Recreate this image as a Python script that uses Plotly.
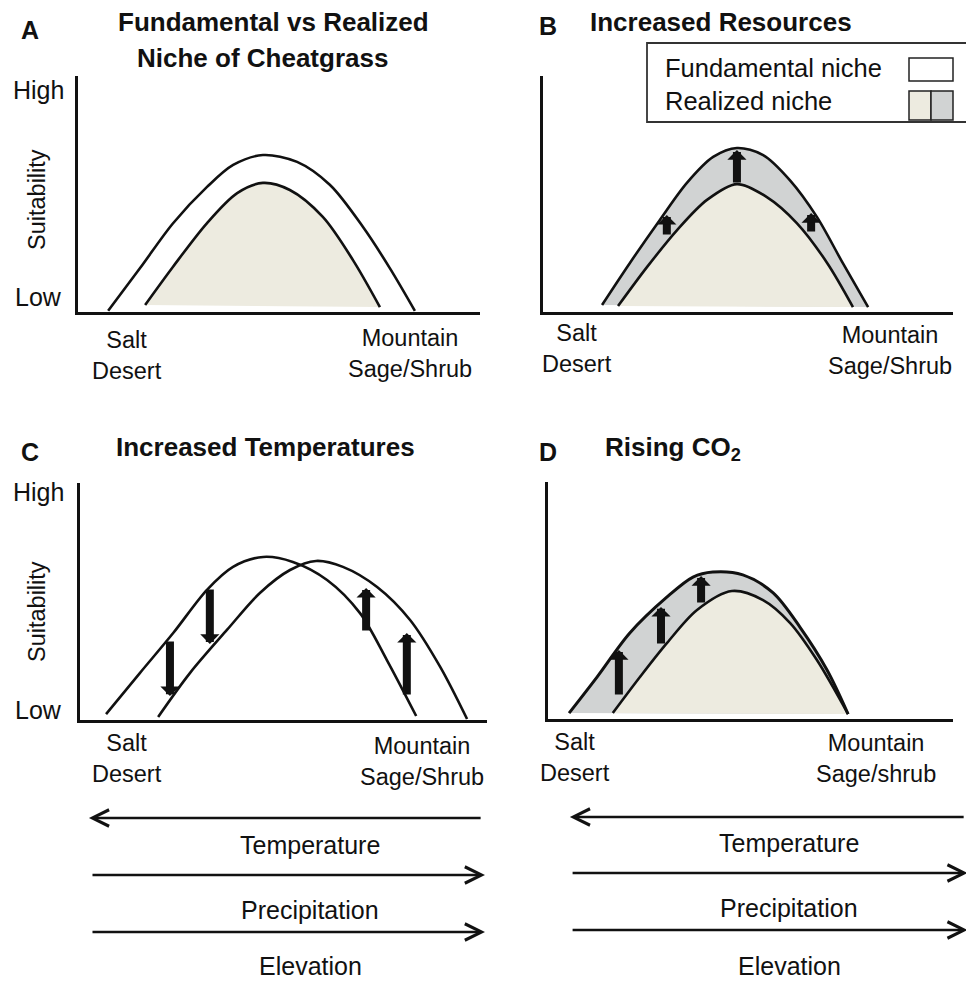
import plotly.graph_objects as go

W, H = 966, 981
FONT = "Liberation Sans, Arial, Helvetica, sans-serif"
INK = "#111111"
BEIGE = "#EDEBE0"
GREY = "#D1D3D3"

# ---------------- data (gradient position 0-100, suitability 0-100) ----------------
# Panel A: fundamental vs realized niche
A_fund_x = [7.5, 15.4, 23.6, 32.1, 38.6, 46.0, 54.5, 62.7, 70.9, 77.6, 83.8]
A_fund_y = [0.5, 18.5, 37.5, 53.0, 62.3, 66.5, 63.6, 53.8, 36.0, 18.5, 0.5]
A_real_x = [16.7, 23.6, 32.1, 39.6, 46.0, 52.7, 60.9, 68.4, 75.1]
A_real_y = [3.0, 19.1, 37.7, 50.4, 54.7, 51.7, 40.3, 22.0, 2.1]

# Panel B: increased resources
B_new_x = [14.4, 21.2, 28.5, 35.1, 41.5, 47.3, 53.7, 60.2, 66.8, 73.1, 79.3]
B_new_y = [3.0, 20.8, 39.0, 54.7, 65.7, 69.5, 66.5, 55.9, 40.3, 20.8, 2.1]
B_old_x = [18.3, 25.4, 32.7, 40.0, 47.3, 54.6, 61.9, 69.3, 75.6]
B_old_y = [2.5, 19.1, 34.7, 47.5, 54.2, 48.7, 37.7, 20.8, 2.1]
B_arrow_x = [30.2, 47.3, 65.4]
B_arrow_from = [32.2, 54.2, 33.5]
B_arrow_to = [41.1, 68.6, 41.9]

# Panel C: increased temperatures
C_old_x = [6.4, 14.7, 22.9, 31.2, 37.6, 45.0, 52.3, 60.7, 68.8, 75.4, 82.6]
C_old_y = [2.5, 19.8, 36.7, 54.9, 64.6, 68.8, 66.7, 59.1, 45.1, 25.3, 1.7]
C_new_x = [19.2, 27.0, 36.1, 44.2, 51.6, 58.0, 64.6, 73.0, 81.1, 88.5, 95.1]
C_new_y = [1.3, 19.8, 38.0, 53.6, 63.3, 67.1, 64.6, 56.1, 42.2, 22.4, 0.4]
C_arrow_x = [22.1, 31.9, 70.3, 80.3]
C_arrow_from = [33.8, 55.7, 37.1, 10.1]
C_arrow_to = [10.1, 32.1, 55.7, 36.7]

# Panel D: rising CO2
D_new_x = [5.2, 12.1, 20.2, 29.4, 35.8, 40.7, 48.1, 55.6, 62.2, 68.9, 74.1]
D_new_y = [2.5, 17.7, 36.3, 51.5, 59.9, 62.0, 60.8, 53.2, 38.8, 20.7, 2.1]
D_old_x = [16.0, 22.7, 29.4, 36.8, 45.4, 53.1, 59.8, 66.4, 74.1]
D_old_y = [2.5, 17.7, 32.1, 46.0, 54.0, 50.2, 40.5, 24.9, 2.1]
D_arrow_x = [17.5, 27.9, 37.8]
D_arrow_from = [9.7, 31.2, 48.5]
D_arrow_to = [29.1, 47.3, 60.3]

# Environmental gradient arrows (start -> end along the gradient axis)
grad_names = ["Temperature", "Precipitation", "Elevation"]
grad_C_start = [98.8, 2.7, 2.7]
grad_C_end = [2.2, 99.5, 99.5]
grad_D_start = [103.0, 5.7, 5.7]
grad_D_end = [5.4, 103.6, 103.6]

y_ticks = ["Low", "High"]
x_ticks_AB = ["Salt<br>Desert", "Mountain<br>Sage/Shrub"]
x_ticks_D = ["Salt<br>Desert", "Mountain<br>Sage/shrub"]
legend_items = ["Fundamental niche", "Realized niche"]


def px(x):
    return x / W


def py(y):
    return 1 - y / H


fig = go.Figure()

# panel frames (pixel boxes of the axes)
boxes = {
    "": (78, 480, 76, 312),
    "2": (543, 953, 76, 312),
    "3": (80, 487, 483, 720),
    "4": (548, 953, 482, 719),
}

layout_axes = {}
for k, (x0, x1, y0, y1) in boxes.items():
    ax_common = dict(range=[0, 100], showgrid=False, zeroline=False, showticklabels=False,
                     ticks="", showline=True, linewidth=2.6, linecolor=INK, fixedrange=True)
    layout_axes["xaxis" + k] = dict(domain=[px(x0), px(x1)], anchor="y" + k, **ax_common)
    layout_axes["yaxis" + k] = dict(domain=[py(y1), py(y0)], anchor="x" + k, **ax_common)


def fill(xs, ys, color, k):
    fig.add_trace(go.Scatter(x=xs, y=ys, mode="lines", fill="toself", fillcolor=color,
                             line=dict(width=0, shape="spline", smoothing=0.9),
                             xaxis="x" + k, yaxis="y" + k, hoverinfo="skip", showlegend=False))


def curve(xs, ys, k, w=2.6):
    fig.add_trace(go.Scatter(x=xs, y=ys, mode="lines",
                             line=dict(width=w, color=INK, shape="spline", smoothing=0.9),
                             xaxis="x" + k, yaxis="y" + k, hoverinfo="skip", showlegend=False))


# A
fill(A_real_x, A_real_y, BEIGE, "")
curve(A_fund_x, A_fund_y, "")
curve(A_real_x, A_real_y, "")
# B
fill(B_new_x, B_new_y, GREY, "2")
fill(B_old_x, B_old_y, BEIGE, "2")
curve(B_new_x, B_new_y, "2")
curve(B_old_x, B_old_y, "2")
# C
curve(C_old_x, C_old_y, "3")
curve(C_new_x, C_new_y, "3")
# D
fill(D_new_x, D_new_y, GREY, "4")
fill(D_old_x, D_old_y, BEIGE, "4")
curve(D_new_x, D_new_y, "4", 3.0)
curve(D_old_x, D_old_y, "4")

ann = []


def block_arrows(xs, y0s, y1s, k, width=8):
    for x, a, b in zip(xs, y0s, y1s):
        ann.append(dict(x=x, y=b, ax=x, ay=a, xref="x" + k, yref="y" + k, axref="x" + k, ayref="y" + k,
                        text="", showarrow=True, arrowhead=1, arrowwidth=width, arrowsize=0.4,
                        arrowcolor=INK))


block_arrows(B_arrow_x, B_arrow_from, B_arrow_to, "2")
block_arrows(C_arrow_x, C_arrow_from, C_arrow_to, "3")
block_arrows(D_arrow_x, D_arrow_from, D_arrow_to, "4")

# gradient arrows + labels
grad_rows_C = [818, 875, 932]
grad_lbl_C = [845, 910, 966]
grad_rows_D = [817, 873, 930]
grad_lbl_D = [843, 908, 966]
for i, name in enumerate(grad_names):
    ann.append(dict(x=grad_C_end[i], y=py(grad_rows_C[i]), ax=grad_C_start[i], ay=0,
                    xref="x3", yref="paper", axref="x3", ayref="pixel", text="", showarrow=True,
                    arrowhead=5, arrowwidth=2.6, arrowsize=1.25, arrowcolor=INK))
    ann.append(dict(x=grad_D_end[i], y=py(grad_rows_D[i]), ax=grad_D_start[i], ay=0,
                    xref="x4", yref="paper", axref="x4", ayref="pixel", text="", showarrow=True,
                    arrowhead=5, arrowwidth=2.6, arrowsize=1.25, arrowcolor=INK))
    ann.append(dict(x=px(310), y=py(grad_lbl_C[i]), xref="paper", yref="paper", text=name,
                    showarrow=False, xanchor="center", yanchor="middle",
                    font=dict(size=25, color=INK, family=FONT)))
    ann.append(dict(x=px(789), y=py(grad_lbl_D[i]), xref="paper", yref="paper", text=name,
                    showarrow=False, xanchor="center", yanchor="middle",
                    font=dict(size=25, color=INK, family=FONT)))


def text(x, y, s, size=23.5, bold=False, anchor="center", angle=0):
    ann.append(dict(x=px(x), y=py(y), xref="paper", yref="paper", text=("<b>%s</b>" % s) if bold else s,
                    showarrow=False, xanchor=anchor, yanchor="middle", textangle=angle,
                    font=dict(size=size, color=INK, family=FONT)))


# panel letters and titles
text(30, 30, "A", 25, True)
text(273, 22, "Fundamental vs Realized", 26, True)
text(262, 58, "Niche of Cheatgrass", 26, True)
text(548, 26, "B", 25, True)
text(588, 22, "Increased Resources", 26, True, "left")
text(30, 452, "C", 25, True)
text(265, 447, "Increased Temperatures", 26, True)
text(548, 452, "D", 25, True)
text(603, 448, "Rising CO<sub>2</sub>", 26, True, "left")

# y-axis labels (A and C)
for (hy, ly, sy) in [(90, 297, 200), (492, 710, 612)]:
    text(38, hy, y_ticks[1], 25)
    text(38, ly, y_ticks[0], 25)
    text(37, sy, "Suitability", 23.5, angle=-90)


# x-axis category labels
def xlabels(items, xs, ys):
    for item, x, y in zip(items, xs, ys):
        ann.append(dict(x=px(x), y=py(y), xref="paper", yref="paper", text=item, showarrow=False,
                        xanchor="center", yanchor="top", align="center",
                        font=dict(size=23.5, color=INK, family=FONT)))


xlabels(x_ticks_AB, [127, 410], [325, 323])
xlabels(x_ticks_AB, [577, 890], [318, 320])
xlabels(x_ticks_AB, [127, 422], [728, 731])
xlabels(x_ticks_D, [575, 876], [727, 728])

# legend
shapes = [
    dict(type="rect", xref="paper", yref="paper", x0=px(647), x1=px(975), y0=py(122), y1=py(43),
         line=dict(color="#333333", width=1.8), fillcolor="white", layer="below"),
    dict(type="rect", xref="paper", yref="paper", x0=px(909), x1=px(953), y0=py(81), y1=py(58),
         line=dict(color="#222222", width=1.5), fillcolor="white"),
    dict(type="rect", xref="paper", yref="paper", x0=px(909), x1=px(931), y0=py(120), y1=py(91),
         line=dict(color="#222222", width=1.5), fillcolor=BEIGE),
    dict(type="rect", xref="paper", yref="paper", x0=px(931), x1=px(953), y0=py(120), y1=py(91),
         line=dict(color="#222222", width=1.5), fillcolor=GREY),
]
text(663, 68, legend_items[0], 25.5, anchor="left")
text(663, 101, legend_items[1], 25.5, anchor="left")

fig.update_layout(
    width=W, height=H, margin=dict(l=0, r=0, t=0, b=0),
    paper_bgcolor="white", plot_bgcolor="rgba(0,0,0,0)",
    showlegend=False, annotations=ann, shapes=shapes,
    font=dict(family=FONT, color=INK),
    **layout_axes,
)

fig.write_html(
    "out.html",
    config={"displayModeBar": False},
    post_script="document.body.style.margin='0px';document.body.style.padding='0px';"
                "document.body.style.overflow='hidden';",
)
